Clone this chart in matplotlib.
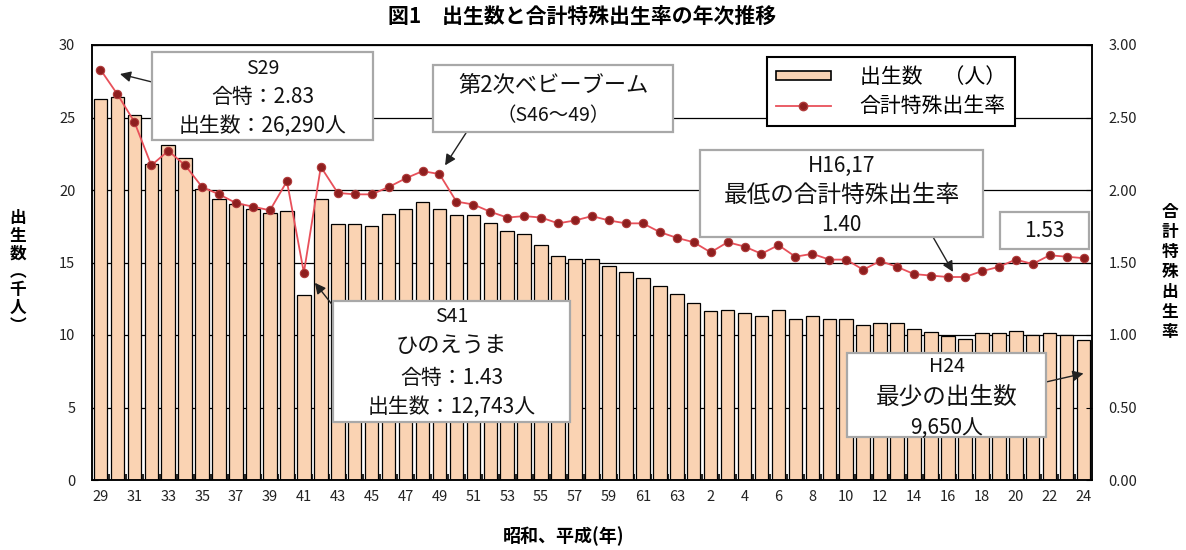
import numpy as np
import matplotlib
matplotlib.use("Agg")
import matplotlib.pyplot as plt
from matplotlib.patches import Patch, Rectangle
from matplotlib.lines import Line2D
from matplotlib.ticker import FormatStrFormatter

plt.rcParams['font.family'] = ['Noto Sans CJK JP', 'DejaVu Sans']

# 昭和29年〜63年、平成元年〜24年
showa = list(range(29, 64))
heisei = list(range(1, 25))
tick_labels = [str(y) for y in showa[::2]] + [str(y) for y in heisei[1::2]]

# 出生数（千人）
births = [26.29, 26.40, 25.17, 21.80, 23.10, 22.20, 20.05, 19.40, 19.03, 18.70,
          18.40, 18.55, 12.743, 19.40, 17.66, 17.66, 17.54, 18.32, 18.70, 19.15,
          18.70, 18.28, 18.28, 17.75, 17.20, 16.97, 16.20, 15.45, 15.24, 15.22,
          14.78, 14.34, 13.90, 13.38, 12.82, 12.18, 11.63, 11.72, 11.50, 11.31,
          11.72, 11.08, 11.31, 11.08, 11.08, 10.67, 10.85, 10.85, 10.41, 10.18,
          9.96, 9.72, 10.11, 10.11, 10.30, 9.98, 10.11, 9.98, 9.65]

# 合計特殊出生率
rate = [2.83, 2.66, 2.47, 2.17, 2.27, 2.17, 2.02, 1.97, 1.91, 1.885,
        1.86, 2.06, 1.43, 2.16, 1.98, 1.97, 1.97, 2.02, 2.08, 2.13,
        2.11, 1.92, 1.90, 1.85, 1.81, 1.82, 1.81, 1.77, 1.79, 1.82,
        1.79, 1.77, 1.77, 1.71, 1.67, 1.64, 1.57, 1.64, 1.61, 1.56,
        1.62, 1.54, 1.56, 1.52, 1.52, 1.45, 1.51, 1.47, 1.42, 1.41,
        1.40, 1.40, 1.44, 1.47, 1.52, 1.49, 1.55, 1.54, 1.53]

PEACH = '#FAD3B3'
LINE_RED = '#E8505A'
DOT_RED = '#8E1F1F'
BOX_EDGE = '#A8A8A8'

W, H = 1186, 550
L, R, T, B = 92, 1092, 45, 480

fig = plt.figure(figsize=(W / 100, H / 100), dpi=100)
ax = fig.add_axes([L / W, 1 - B / H, (R - L) / W, (B - T) / H])
ax2 = ax.twinx()

x = np.arange(len(births))
ax.bar(x, births, width=0.8, color=PEACH, edgecolor='black', linewidth=0.9, zorder=2)
ax.set_xlim(-0.5, len(x) - 0.5)
ax.set_ylim(0, 30)
ax.set_yticks(range(0, 31, 5))
ax.yaxis.grid(True, color='black', linewidth=0.9)
ax.set_axisbelow(True)

ax.set_xticks(x[::2])
ax.set_xticklabels(tick_labels)
ax.set_xticks(x[:-1] + 0.5, minor=True)
ax.tick_params(axis='x', which='major', length=0, pad=7, labelsize=10.5)
ax.tick_params(axis='x', which='minor', direction='in', length=4, width=1.2)
ax.tick_params(axis='y', direction='in', length=4, pad=12, labelsize=10.5)

ax2.plot(x, rate, color=LINE_RED, lw=1.3, marker='o', ms=6,
         mfc=DOT_RED, mec='#B03A3A', mew=0.8, zorder=3)
ax2.set_ylim(0, 3)
ax2.set_yticks(np.arange(0, 3.01, 0.5))
ax2.yaxis.set_major_formatter(FormatStrFormatter('%.2f'))
ax2.tick_params(axis='y', direction='in', length=4, pad=12, labelsize=10.5)

for a in (ax, ax2):
    for s in a.spines.values():
        s.set_linewidth(1.1)
    a.tick_params(labelcolor='#222222')


def px(xp, yp):
    # pixel position -> axes fraction
    return (xp - L) / (R - L), (B - yp) / (B - T)


def note_box(x0, y0, x1, y1, lines):
    fx0, fy1 = px(x0, y1)
    fx1, fy0 = px(x1, y0)
    ax2.add_patch(Rectangle((fx0, fy1), fx1 - fx0, fy0 - fy1, transform=ax2.transAxes,
                            facecolor='white', edgecolor=BOX_EDGE, lw=1.6, zorder=6,
                            clip_on=False))
    cx = (x0 + x1) / 2
    for text, yp, size in lines:
        tx, ty = px(cx, yp)
        ax2.text(tx, ty, text, transform=ax2.transAxes, ha='center', va='center',
                 fontsize=size, color='#111111', zorder=7)


def arrow(xy, tail, coords):
    ax2.annotate('', xy=xy, xycoords=coords, xytext=px(*tail), textcoords='axes fraction',
                 arrowprops=dict(arrowstyle='-|>', color='#222222', lw=1.0,
                                 mutation_scale=16, shrinkA=0, shrinkB=0), zorder=5)


# S29
arrow((0 + 1.15, rate[0] - 0.03), (152, 82), ax2.transData)
note_box(152, 52, 373, 140, [('S29', 68, 14), ('合特：2.83', 97, 15),
                             ('出生数：26,290人', 126, 15)])

# 第2次ベビーブーム
arrow((20 + 0.33, rate[20] + 0.06), (466, 133), ax2.transData)
note_box(433, 65, 673, 132, [('第2次ベビーブーム', 86, 16), ('（S46〜49）', 116, 14)])

# S41 ひのえうま
arrow((12 + 0.65, rate[12] - 0.07), (334, 307), ax2.transData)
note_box(333, 301, 570, 422, [('S41', 317, 14), ('ひのえうま', 346, 16),
                              ('合特：1.43', 378, 15), ('出生数：12,743人', 407, 15)])

# H16,17
arrow((50 + 0.3, rate[50] + 0.035), (933, 237), ax2.transData)
note_box(700, 150, 983, 237, [('H16,17', 166, 15), ('最低の合計特殊出生率', 195, 17),
                              ('1.40', 225, 15)])

# H24
note_box(1000, 212, 1089, 249, [('1.53', 231, 15)])
arrow((58, births[58] - 2.3), (1046, 382), ax.transData)
note_box(847, 353, 1046, 437, [('H24', 367, 14), ('最少の出生数', 397, 17),
                               ('9,650人', 428, 15)])

handles = [Patch(facecolor=PEACH, edgecolor='black', linewidth=1.2),
           Line2D([], [], color=LINE_RED, lw=1.3, marker='o', ms=6, mfc=DOT_RED, mec='#B03A3A')]
leg = ax2.legend(handles, ['出生数　（人）', '合計特殊出生率'], loc='upper left',
                 bbox_to_anchor=px(767, 57), fontsize=15, frameon=True, fancybox=False,
                 framealpha=1, edgecolor='black', borderpad=0.45, labelspacing=0.3,
                 handlelength=2.6, handleheight=0.3, handletextpad=1.4, borderaxespad=0)
leg.get_frame().set_linewidth(1.5)
leg.set_zorder(8)

fig.text(582 / W, 1 - 16 / H, '図1　出生数と合計特殊出生率の年次推移', ha='center', va='center',
         fontsize=15, fontweight='bold')
fig.text(564 / W, 1 - 536 / H, '昭和、平成(年)', ha='center', va='center',
         fontsize=13, fontweight='bold')
fig.text(18 / W, 1 - 272 / H, '\n'.join('出生数︵千人︶'), ha='center', va='center',
         fontsize=12, fontweight='bold', linespacing=1.0)
fig.text(1170 / W, 1 - 272 / H, '\n'.join('合計特殊出生率'), ha='center', va='center',
         fontsize=12, fontweight='bold', linespacing=1.15)

fig.savefig('out.png', dpi=100)
